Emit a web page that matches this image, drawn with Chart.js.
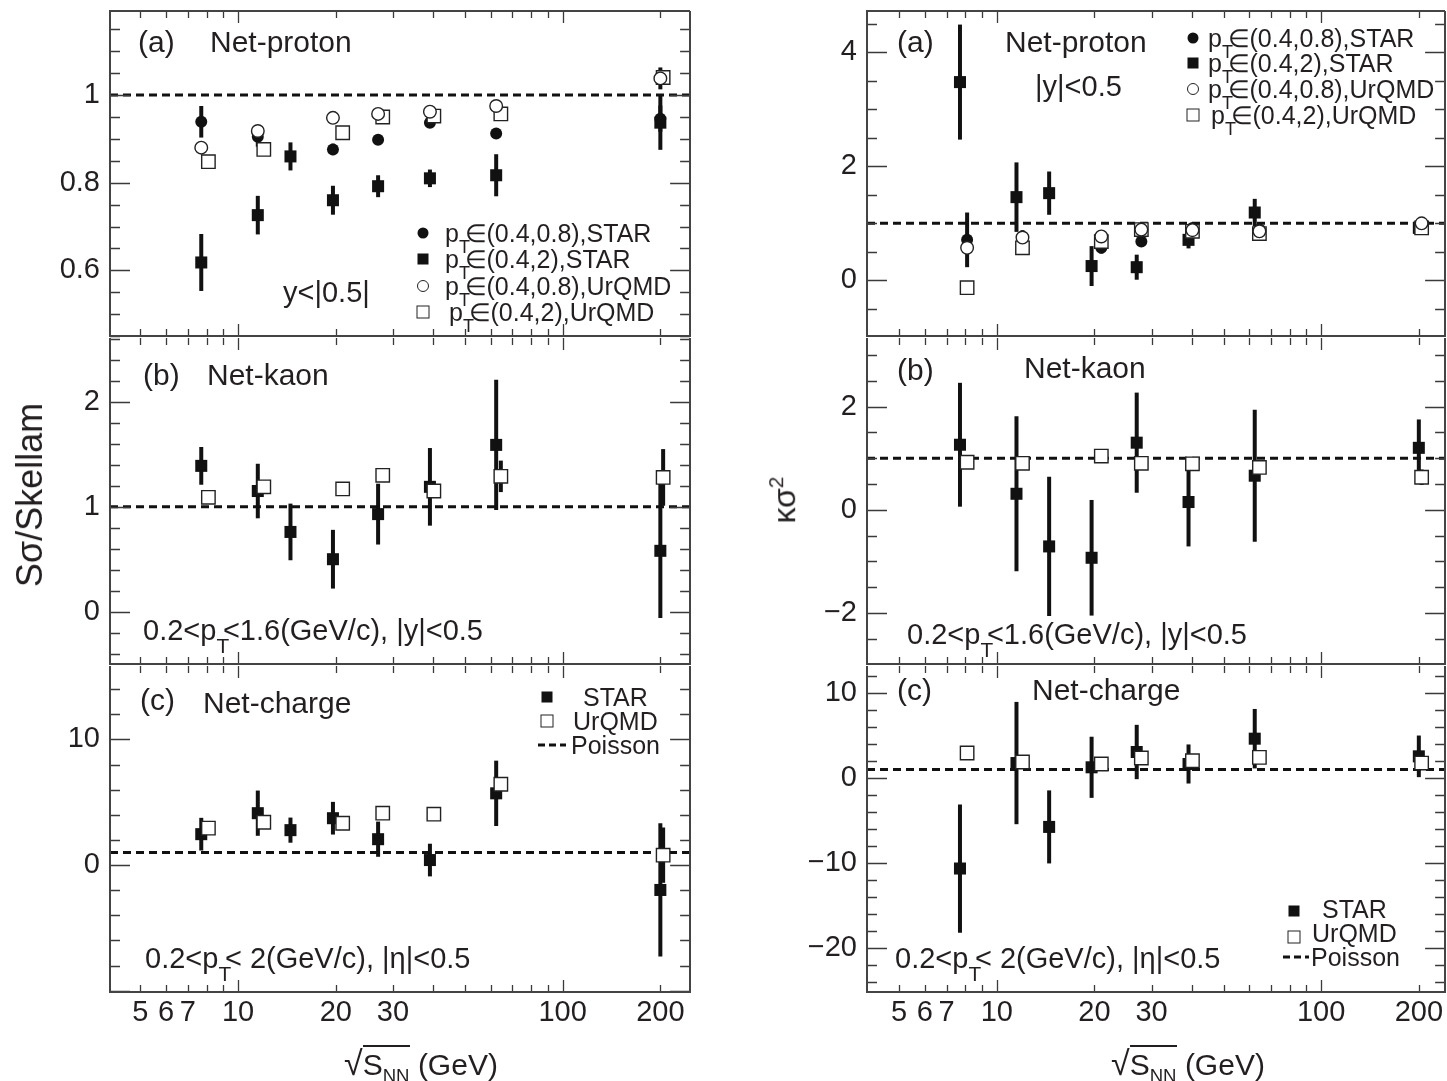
<!DOCTYPE html>
<html>
<head>
<meta charset="utf-8">
<script src="https://cdn.jsdelivr.net/npm/chart.js@4.4.1/dist/chart.umd.min.js"></script>
<style>
  body { margin: 0; background: #fff; }
  #wrap { position: relative; width: 1447px; height: 1081px; overflow: hidden; background: #fff;
          font-family: 'Liberation Sans', Arial, sans-serif; color: #231f20; }
  canvas { position: absolute; }
  .t { position: absolute; white-space: nowrap; line-height: 1; transform: translateY(-50%); }
  .sub { font-size: 0.72em; position: relative; top: 0.6em; display: inline-block; margin-right: -0.3em; }
  .mk { position: absolute; transform: translate(-50%, -50%); box-sizing: border-box; }
  .fc { width: 11px; height: 11px; border-radius: 50%; background: #111; }
  .fs { width: 11px; height: 11px; background: #111; }
  .oc { width: 12px; height: 12px; border-radius: 50%; border: 1.3px solid #222; background: #fff; }
  .os { width: 13px; height: 13px; border: 1.3px solid #222; background: #fff; }
  .dl { position: absolute; height: 3px; transform: translateY(-50%);
        background: repeating-linear-gradient(90deg, #111 0 7px, transparent 7px 11px); }
  .rot { position: absolute; white-space: nowrap; line-height: 1; transform: translate(-50%, -50%) rotate(-90deg); }
</style>
</head>
<body>
<div id="wrap"></div>
<script>
// ── Data ─────────────────────────────────────────────────────────────────────
const E_STAR   = [7.7, 11.5, 14.5, 19.6, 27, 39, 62.4, 200];
const E_STAR7  = [7.7, 11.5, 19.6, 27, 39, 62.4, 200];          // no 14.5 point
const E_URQMD  = [8.1, 12.0, 21.0, 27.9, 40.1, 64.5, 204];      // UrQMD drawn slightly right

const X_TICK_LABELS = [5, 6, 7, 10, 20, 30, 100, 200];
const X_MINOR = [5, 6, 7, 8, 9, 20, 30, 40, 50, 60, 70, 80, 90, 200];
const X_MAJOR = [10, 100];
const POISSON = 1;

// Sσ/Skellam, net-proton
const SS_P_STAR08     = [0.939, 0.905, 0.876, 0.898, 0.937, 0.912, 0.946];
const SS_P_STAR08_ERR = [0.036, 0.023, 0.013, 0.008, 0.008, 0.012, 0.03];
const SS_P_STAR2      = [0.618, 0.726, 0.860, 0.760, 0.792, 0.810, 0.817, 0.937];
const SS_P_STAR2_ERR  = [0.065, 0.044, 0.032, 0.033, 0.025, 0.02, 0.048, 0.062];
const SS_P_URQMD08    = [0.880, 0.918, 0.948, 0.957, 0.962, 0.975, 1.038];
const SS_P_URQMD08_ERR= [0, 0, 0, 0, 0, 0, 0.025];
const SS_P_URQMD2     = [0.848, 0.876, 0.914, 0.950, 0.952, 0.957, 1.040];

// Sσ/Skellam, net-kaon
const SS_K_STAR      = [1.39, 1.15, 0.76, 0.50, 0.93, 1.19, 1.59, 0.58];
const SS_K_STAR_ERR  = [0.18, 0.26, 0.27, 0.28, 0.29, 0.37, 0.62, 0.64];
const SS_K_URQMD     = [1.09, 1.19, 1.17, 1.30, 1.15, 1.29, 1.28];
const SS_K_URQMD_ERR = [0, 0, 0, 0, 0, 0.15, 0.27];

// Sσ/Skellam, net-charge
const SS_Q_STAR      = [2.46, 4.13, 2.78, 3.73, 2.06, 0.4, 5.71, -1.98];
const SS_Q_STAR_ERR  = [1.3, 1.8, 1.0, 1.3, 1.4, 1.3, 2.6, 5.3];
const SS_Q_URQMD     = [2.94, 3.41, 3.33, 4.13, 4.05, 6.43, 0.79];
const SS_Q_URQMD_ERR = [0, 0, 0, 0, 0.3, 0, 2.2];

// κσ², net-proton
const KS_P_STAR2      = [3.48, 1.46, 1.53, 0.25, 0.23, 0.71, 1.19, 0.92];
const KS_P_STAR2_ERR  = [1.01, 0.61, 0.38, 0.35, 0.22, 0.15, 0.24, 0.05];
const KS_P_STAR08     = [0.71, 0.68, 0.57, 0.68, 0.92, 0.89, 0.92];
const KS_P_STAR08_ERR = [0.48, 0.2, 0.1, 0.05, 0.05, 0.05, 0.03];
const KS_P_URQMD08    = [0.57, 0.75, 0.77, 0.89, 0.88, 0.86, 1.0];
const KS_P_URQMD2     = [-0.13, 0.57, 0.68, 0.89, 0.86, 0.82, 0.92];

// κσ², net-kaon
const KS_K_STAR      = [1.26, 0.31, -0.71, -0.93, 1.30, 0.15, 0.66, 1.20];
const KS_K_STAR_ERR  = [1.2, 1.5, 1.35, 1.12, 0.97, 0.86, 1.28, 0.55];
const KS_K_URQMD     = [0.92, 0.90, 1.04, 0.90, 0.89, 0.82, 0.63];
const KS_K_URQMD_ERR = [0, 0, 0, 0, 0, 0, 0.15];

// κσ², net-charge
const KS_Q_STAR      = [-10.66, 1.76, -5.76, 1.26, 3.06, 1.65, 4.63, 2.55];
const KS_Q_STAR_ERR  = [7.55, 7.2, 4.3, 3.6, 3.2, 2.3, 3.5, 2.45];
const KS_Q_URQMD     = [2.94, 1.88, 1.65, 2.35, 2.04, 2.43, 1.76];

// ── Styles ────────────────────────────────────────────────────────────────────
const INK = '#231f20';
const MARK = {
  fsq: { pointStyle: 'rect',   pointRadius: 8.5, backgroundColor: '#111', borderColor: '#111', borderWidth: 0, order: 2 },
  fci: { pointStyle: 'circle', pointRadius: 6,   backgroundColor: '#111', borderColor: '#111', borderWidth: 0, order: 2 },
  osq: { pointStyle: 'rect',   pointRadius: 9.5, backgroundColor: '#fff', borderColor: '#222', borderWidth: 1.4, order: 1 },
  oci: { pointStyle: 'circle', pointRadius: 6.3, backgroundColor: '#fff', borderColor: '#222', borderWidth: 1.4, order: 1 },
};

Chart.defaults.font.family = "'Liberation Sans', Arial, sans-serif";
Chart.defaults.color = INK;

function series(xs, ys, errs, style) {
  return Object.assign({
    data: xs.map((x, i) => ({ x, y: ys[i] })),
    errors: errs || null,
    showLine: false,
    pointHoverRadius: 0,
  }, MARK[style]);
}

// frame, inward ticks, Poisson line and error bars
const framePlugin = {
  id: 'frame',
  beforeDatasetsDraw(chart, args, opts) {
    const { ctx, chartArea: a, scales: { x, y } } = chart;
    ctx.save();
    const py = y.getPixelForValue(POISSON);
    ctx.strokeStyle = '#111';
    ctx.lineWidth = 3;
    ctx.setLineDash([8, 5]);
    ctx.beginPath(); ctx.moveTo(a.left, py); ctx.lineTo(a.right, py); ctx.stroke();
    ctx.setLineDash([]);
    ctx.lineWidth = 4;
    chart.data.datasets.forEach(ds => {
      if (!ds.errors) return;
      ds.data.forEach((p, i) => {
        const e = ds.errors[i];
        if (!e) return;
        const px = x.getPixelForValue(p.x);
        ctx.beginPath();
        ctx.moveTo(px, y.getPixelForValue(p.y - e));
        ctx.lineTo(px, y.getPixelForValue(p.y + e));
        ctx.stroke();
      });
    });
    ctx.restore();
  },
  afterDraw(chart, args, opts) {
    const { ctx, chartArea: a, scales: { x, y } } = chart;
    ctx.save();
    ctx.strokeStyle = '#3a3a3a';
    ctx.lineWidth = 1.3;
    // y ticks, both sides
    const k0 = Math.ceil(y.min / opts.minor - 1e-6), k1 = Math.floor(y.max / opts.minor + 1e-6);
    for (let k = k0; k <= k1; k++) {
      const v = k * opts.minor;
      const r = v / opts.major;
      const len = Math.abs(r - Math.round(r)) < 1e-6 ? 20 : 10;
      const py = Math.round(y.getPixelForValue(v)) + 0.5;
      ctx.beginPath();
      ctx.moveTo(a.left, py); ctx.lineTo(a.left + len, py);
      ctx.moveTo(a.right, py); ctx.lineTo(a.right - len, py);
      ctx.stroke();
    }
    // x ticks, top and bottom
    const xt = X_MINOR.map(v => [v, 7]).concat(X_MAJOR.map(v => [v, 12]));
    xt.forEach(([v, len]) => {
      const px = Math.round(x.getPixelForValue(v)) + 0.5;
      ctx.beginPath();
      ctx.moveTo(px, a.top); ctx.lineTo(px, a.top + len);
      ctx.moveTo(px, a.bottom); ctx.lineTo(px, a.bottom - len);
      ctx.stroke();
    });
    // frame; a lower panel shares its top edge with the panel above
    ctx.strokeStyle = '#444';
    ctx.lineWidth = 2;
    const l = Math.round(a.left), t = Math.round(a.top), r = Math.round(a.right), b = Math.round(a.bottom);
    ctx.beginPath();
    if (opts.top) { ctx.moveTo(r, t); ctx.lineTo(l, t); } else { ctx.moveTo(l, t); }
    ctx.lineTo(l, b); ctx.lineTo(r, b); ctx.lineTo(r, t);
    ctx.stroke();
    ctx.restore();
  },
};

const wrap = document.getElementById('wrap');

function panel(box, xRange, yRange, yLabels, minor, major, datasets, showX) {
  const cv = document.createElement('canvas');
  cv.width = box.w; cv.height = box.h;
  cv.style.left = box.l + 'px'; cv.style.top = box.t + 'px';
  cv.style.width = box.w + 'px'; cv.style.height = box.h + 'px';
  wrap.appendChild(cv);
  return new Chart(cv, {
    type: 'scatter',
    data: { datasets },
    options: {
      responsive: false,
      animation: false,
      events: [],
      layout: { padding: { left: 0, right: 10, top: 10, bottom: showX ? 0 : 10 } },
      plugins: { legend: { display: false }, tooltip: { enabled: false }, frame: { minor, major, top: box.top } },
      scales: {
        x: {
          type: 'logarithmic', min: xRange[0], max: xRange[1], display: showX,
          grid: { display: false, drawTicks: false }, border: { display: false },
          afterBuildTicks: s => { s.ticks = X_TICK_LABELS.map(v => ({ value: v })); },
          afterFit: s => { s.height = showX ? 89 : 0; s.paddingLeft = 0; s.paddingRight = 0; },
          ticks: { autoSkip: false, maxRotation: 0, padding: 4, color: INK, font: { size: 29 }, callback: v => String(v) },
        },
        y: {
          min: yRange[0], max: yRange[1],
          grid: { display: false, drawTicks: false }, border: { display: false },
          afterBuildTicks: s => { s.ticks = yLabels.map(v => ({ value: v })); },
          afterFit: s => { s.width = 110; s.paddingTop = 0; s.paddingBottom = 0; },
          ticks: { autoSkip: false, padding: 10, color: INK, font: { size: 29 },
                   callback: v => String(v).replace('-', '\u2212') },
        },
      },
    },
    plugins: [framePlugin],
  });
}

const LEFT_X = [4.03, 247];
const RIGHT_X = [3.98, 241];
// chart areas: rows 10-337, 337-665, 665-992 (canvas has 10px padding round it)
const ROWS = [{ t: 0, h: 347 }, { t: 327, h: 348 }, { t: 655, h: 426 }];
const L = r => ({ l: 0,   w: 701, t: ROWS[r].t, h: ROWS[r].h, top: r === 0 });
const R = r => ({ l: 757, w: 699, t: ROWS[r].t, h: ROWS[r].h, top: r === 0 });

// Left column: Sσ/Skellam
panel(L(0), LEFT_X, [0.45, 1.192], [0.6, 0.8, 1], 0.05, 0.2, [
  series(E_STAR7, SS_P_STAR08, SS_P_STAR08_ERR, 'fci'),
  series(E_STAR, SS_P_STAR2, SS_P_STAR2_ERR, 'fsq'),
  series(E_STAR7, SS_P_URQMD08, SS_P_URQMD08_ERR, 'oci'),
  series(E_URQMD, SS_P_URQMD2, null, 'osq'),
], false);
panel(L(1), LEFT_X, [-0.5, 2.61], [0, 1, 2], 0.2, 1, [
  series(E_STAR, SS_K_STAR, SS_K_STAR_ERR, 'fsq'),
  series(E_URQMD, SS_K_URQMD, SS_K_URQMD_ERR, 'osq'),
], false);
panel(L(2), LEFT_X, [-10.1, 15.85], [0, 10], 2, 10, [
  series(E_STAR, SS_Q_STAR, SS_Q_STAR_ERR, 'fsq'),
  series(E_URQMD, SS_Q_URQMD, SS_Q_URQMD_ERR, 'osq'),
], true);

// Right column: κσ²
panel(R(0), RIGHT_X, [-0.98, 4.73], [0, 2, 4], 0.5, 2, [
  series(E_URQMD, KS_P_STAR08, KS_P_STAR08_ERR, 'fci'),
  series(E_STAR, KS_P_STAR2, KS_P_STAR2_ERR, 'fsq'),
  series(E_URQMD, KS_P_URQMD08, null, 'oci'),
  series(E_URQMD, KS_P_URQMD2, null, 'osq'),
], false);
panel(R(1), RIGHT_X, [-2.99, 3.33], [-2, 0, 2], 0.5, 2, [
  series(E_STAR, KS_K_STAR, KS_K_STAR_ERR, 'fsq'),
  series(E_URQMD, KS_K_URQMD, KS_K_URQMD_ERR, 'osq'),
], false);
panel(R(2), RIGHT_X, [-25.2, 13.2], [-20, -10, 0, 10], 2, 10, [
  series(E_STAR, KS_Q_STAR, KS_Q_STAR_ERR, 'fsq'),
  series(E_URQMD, KS_Q_URQMD, null, 'osq'),
], true);

// ── Text, legends, axis titles ───────────────────────────────────────────────
const PT = 'p<span class="sub">T</span>';
const TEXTS = [
  // left column
  [138, 42, 30, '(a)'], [210, 42, 30, 'Net-proton'], [283, 292, 29, 'y&lt;|0.5|'],
  [445, 233, 25, PT + '\u2208(0.4,0.8),STAR'], [445, 259, 25, PT + '\u2208(0.4,2),STAR'],
  [445, 286, 25, PT + '\u2208(0.4,0.8),UrQMD'], [449, 312, 25, PT + '\u2208(0.4,2),UrQMD'],
  [143, 375, 30, '(b)'], [207, 375, 30, 'Net-kaon'],
  [143, 630, 29, '0.2&lt;' + PT + '&lt;1.6(GeV/c), |y|&lt;0.5'],
  [140, 700, 30, '(c)'], [203, 703, 30, 'Net-charge'],
  [583, 697, 25, 'STAR'], [573, 721, 25, 'UrQMD'], [571, 745, 25, 'Poisson'],
  [145, 958, 29, '0.2&lt;' + PT + '&lt; 2(GeV/c), |\u03b7|&lt;0.5'],
  // right column
  [897, 42, 30, '(a)'], [1005, 42, 30, 'Net-proton'], [1035, 86, 29, '|y|&lt;0.5'],
  [1208, 38, 25, PT + '\u2208(0.4,0.8),STAR'], [1208, 63, 25, PT + '\u2208(0.4,2),STAR'],
  [1208, 89, 25, PT + '\u2208(0.4,0.8),UrQMD'], [1211, 115, 25, PT + '\u2208(0.4,2),UrQMD'],
  [897, 370, 30, '(b)'], [1024, 368, 30, 'Net-kaon'],
  [907, 634, 29, '0.2&lt;' + PT + '&lt;1.6(GeV/c), |y|&lt;0.5'],
  [897, 690, 30, '(c)'], [1032, 690, 30, 'Net-charge'],
  [895, 958, 29, '0.2&lt;' + PT + '&lt; 2(GeV/c), |\u03b7|&lt;0.5'],
  [1322, 909, 25, 'STAR'], [1312, 933, 25, 'UrQMD'], [1311, 957, 25, 'Poisson'],
];
const MARKERS = [
  [423, 233, 'fc'], [423, 259, 'fs'], [423, 286, 'oc'], [423, 312, 'os'],
  [547, 697, 'fs'], [547, 721, 'os'],
  [1193, 38, 'fc'], [1193, 63, 'fs'], [1193, 89, 'oc'], [1193, 115, 'os'],
  [1294, 911, 'fs'], [1294, 937, 'os'],
];
const DASHES = [[538, 745, 28], [1283, 957, 26]];

let html = '';
TEXTS.forEach(([x, y, s, t]) => {
  html += `<div class="t" style="left:${x}px;top:${y}px;font-size:${s}px">${t}</div>`;
});
MARKERS.forEach(([x, y, c]) => { html += `<div class="mk ${c}" style="left:${x}px;top:${y}px"></div>`; });
DASHES.forEach(([x, y, w]) => { html += `<div class="dl" style="left:${x}px;top:${y}px;width:${w}px"></div>`; });

html += `<div class="rot" style="left:30px;top:495px;font-size:36px">S\u03c3/Skellam</div>`;
html += `<div class="rot" style="left:783px;top:500px;font-size:32px">\u03ba\u03c3<sup style="font-size:0.65em">2</sup></div>`;
const XT = '<span style="font-size:34px">\u221a</span><span style="border-top:2px solid #231f20;padding-top:1px">S<span style="font-size:0.62em;position:relative;top:0.35em">NN</span></span> (GeV)';
html += `<div class="t" style="left:344px;top:1063px;font-size:30px">${XT}</div>`;
html += `<div class="t" style="left:1111px;top:1063px;font-size:30px">${XT}</div>`;
wrap.insertAdjacentHTML('beforeend', html);
</script>
</body>
</html>
